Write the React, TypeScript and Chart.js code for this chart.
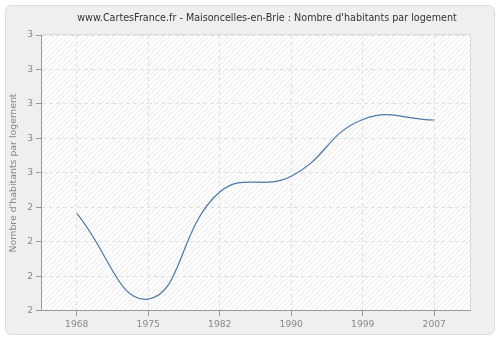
import React, { useEffect, useRef } from "react";
import { Chart, registerables } from "chart.js";

Chart.register(...registerables);

const TITLE = "www.CartesFrance.fr - Maisoncelles-en-Brie : Nombre d'habitants par logement";
const Y_LABEL = "Nombre d'habitants par logement";
const years = ["1968", "1975", "1982", "1990", "1999", "2007"];
const values = [2.354, 2.043, 2.431, 2.488, 2.694, 2.692];
const yMin = 2;
const yMax = 3;
const yStep = 0.125;

const FONT = "'DejaVu Sans', sans-serif";

function makeHatch(): CanvasPattern | string {
  const c = document.createElement("canvas");
  c.width = 5;
  c.height = 5;
  const g = c.getContext("2d");
  if (!g) return "#ffffff";
  g.fillStyle = "#ffffff";
  g.fillRect(0, 0, 5, 5);
  g.strokeStyle = "#e9e9e9";
  g.lineWidth = 1;
  g.beginPath();
  g.moveTo(-1, 6);
  g.lineTo(6, -1);
  g.moveTo(-1, 1);
  g.lineTo(1, -1);
  g.moveTo(4, 6);
  g.lineTo(6, 4);
  g.stroke();
  const p = g.createPattern(c, "repeat");
  return p || "#ffffff";
}

const backgroundPlugin = {
  id: "panelBg",
  beforeDraw(chart: any) {
    const ctx = chart.ctx as CanvasRenderingContext2D;
    const { chartArea } = chart;
    ctx.save();
    ctx.fillStyle = "#ffffff";
    ctx.fillRect(0, 0, chart.width, chart.height);
    ctx.beginPath();
    (ctx as any).roundRect(5.5, 5.5, 489, 329, 6);
    ctx.fillStyle = "#efefef";
    ctx.fill();
    ctx.strokeStyle = "#dddddd";
    ctx.lineWidth = 1;
    ctx.stroke();
    const w = chartArea.right - chartArea.left;
    const h = chartArea.bottom - chartArea.top;
    ctx.fillStyle = makeHatch();
    ctx.fillRect(chartArea.left, chartArea.top, w, h);
    ctx.strokeStyle = "#dcdcdc";
    ctx.strokeRect(Math.round(chartArea.left) + 0.5, Math.round(chartArea.top) - 0.5, Math.round(w), Math.round(h));
    ctx.fillStyle = "#333333";
    ctx.font = `9.6px ${FONT}`;
    ctx.textAlign = "center";
    ctx.textBaseline = "middle";
    ctx.fillText(TITLE, 267, 18);
    ctx.restore();
  },
};

export default function App() {
  const ref = useRef<HTMLCanvasElement | null>(null);
  useEffect(() => {
    document.body.style.margin = "0";
    if (!ref.current) return;
    const chart = new Chart(ref.current, {
      type: "line",
      data: {
        labels: years,
        datasets: [
          {
            data: values,
            borderColor: "#4a78aa",
            borderWidth: 1.2,
            pointRadius: 0,
            tension: 0.45,
            fill: false,
          },
        ],
      },
      options: {
        animation: false,
        responsive: false,
        maintainAspectRatio: false,
        layout: { padding: { left: 8, right: 30, top: 35, bottom: 7 } },
        plugins: {
          legend: { display: false },
          title: { display: false },
          tooltip: { enabled: false },
        },
        scales: {
          x: {
            type: "category",
            offset: true,
            grid: {
              offset: false,
              color: "#e0e0e0",
              tickLength: 5,
              tickColor: "#999999",
            } as any,
            border: { color: "#999999", dash: [4, 3] } as any,
            ticks: { color: "#888888", font: { family: FONT, size: 9.2 }, padding: 3, maxRotation: 0 },
          },
          y: {
            min: yMin,
            max: yMax,
            grid: { color: "#e0e0e0", tickLength: 5, tickColor: "#999999" },
            border: { color: "#999999", dash: [4, 3] } as any,
            ticks: {
              stepSize: yStep,
              color: "#888888",
              font: { family: FONT, size: 9.2 },
              padding: 3,
              callback: (v: any) => Number(v).toFixed(0),
            },
            title: {
              display: true,
              text: Y_LABEL,
              color: "#888888",
              font: { family: FONT, size: 9.4 },
              padding: 0,
            },
            afterFit(scale: any) {
              scale.width = 33;
            },
          },
        },
      },
      plugins: [backgroundPlugin],
    });
    return () => chart.destroy();
  }, []);
  return (
    <div style={{ position: "absolute", left: 0, top: 0, width: 500, height: 340 }}>
      <canvas ref={ref} width={500} height={340} style={{ width: 500, height: 340 }} />
    </div>
  );
}
